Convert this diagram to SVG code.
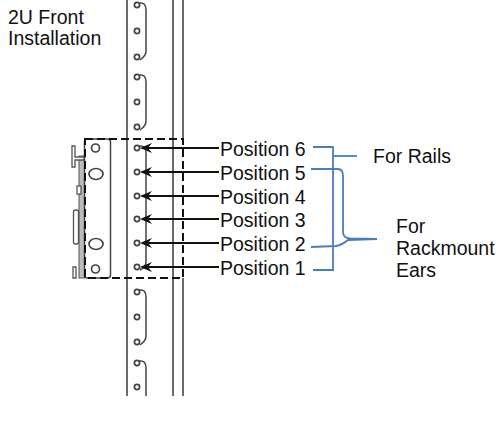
<svg xmlns="http://www.w3.org/2000/svg" width="499" height="421" viewBox="0 0 499 421">
<defs>
<style>
text{font-family:"Liberation Sans",Arial,sans-serif;font-size:19.5px;fill:#111}
.rail{stroke:#444;stroke-width:1.6;fill:none}
.hole{stroke:#444;stroke-width:1.7;fill:#fff}
.slot{stroke:#444;stroke-width:1.5;fill:none}
.arr{stroke:#111;stroke-width:2;fill:none;marker-end:url(#ah)}
.blue{stroke:#4a7ebb;stroke-width:1.8;fill:none}
.dash{stroke:#111;stroke-width:2;stroke-dasharray:8 4;fill:none}
.part{stroke:#555;stroke-width:1.3;fill:#fff}
</style>
<marker id="ah" viewBox="0 0 12 10" refX="8" refY="5" markerWidth="12" markerHeight="10" markerUnits="userSpaceOnUse" orient="auto">
<path d="M12,5 L0,0 L4,5 L0,10 z" fill="#111"/>
</marker>
</defs>
<rect width="499" height="421" fill="#fff"/>

<g id="title">
<text x="8" y="24" font-size="19">2U Front</text>
<text x="8" y="45" font-size="19">Installation</text>
</g>

<g id="rail">
<line class="rail" x1="127" y1="0" x2="127" y2="396"/>
<line class="rail" x1="173" y1="0" x2="173" y2="396"/>
<line class="rail" x1="183" y1="0" x2="183" y2="139"/>
<line class="rail" x1="183" y1="278" x2="183" y2="396"/>
<path class="slot" d="M139.5,3 Q146,2 146,10 V51 Q146,56 140,60"/>
<path class="slot" d="M139.5,75 Q146,74 146,82 V121 Q146,126 140,130"/>
<path class="slot" d="M139.5,146 Q146,145 146,153 V262 Q146,267 140,270"/>
<path class="slot" d="M139.5,290 Q146,289 146,297 V336 Q146,341 140,345"/>
<path class="slot" d="M139.5,361 Q146,360 146,368 V396"/>
<g>
<circle class="hole" cx="137" cy="5" r="2.6"/>
<circle class="hole" cx="137" cy="31" r="2.6"/>
<circle class="hole" cx="137" cy="57" r="2.6"/>
<circle class="hole" cx="137" cy="77" r="2.6"/>
<circle class="hole" cx="137" cy="102" r="2.6"/>
<circle class="hole" cx="137" cy="127" r="2.6"/>
<circle class="hole" cx="137" cy="148" r="2.6"/>
<circle class="hole" cx="137" cy="172" r="2.6"/>
<circle class="hole" cx="137" cy="196" r="2.6"/>
<circle class="hole" cx="137" cy="219" r="2.6"/>
<circle class="hole" cx="137" cy="243" r="2.6"/>
<circle class="hole" cx="137" cy="267" r="2.6"/>
<circle class="hole" cx="137" cy="292" r="2.6"/>
<circle class="hole" cx="137" cy="317" r="2.6"/>
<circle class="hole" cx="137" cy="342" r="2.6"/>
<circle class="hole" cx="137" cy="363" r="2.6"/>
<circle class="hole" cx="137" cy="387" r="2.6"/>
</g>
</g>

<g id="bracket">
<rect x="79" y="156" width="5.5" height="122" fill="#bbb" stroke="#555" stroke-width="1"/>
<path class="part" d="M72,146 H75 V157 H84 V160 H75 V167 H72 Z"/>
<rect class="part" x="77" y="186" width="4" height="8"/>
<rect class="part" x="73.5" y="210" width="5" height="34" rx="2"/>
<path class="part" d="M73,267 H76 V278 H73 Z"/>
<rect x="84.5" y="139" width="26" height="139" rx="3" fill="#fff" stroke="#444" stroke-width="1.5"/>
<circle class="hole" cx="95.5" cy="148" r="4"/>
<ellipse class="hole" cx="96" cy="174" rx="7" ry="5.5"/>
<ellipse class="hole" cx="96" cy="244" rx="7" ry="5.5"/>
<circle class="hole" cx="95.5" cy="269" r="4"/>
<rect class="dash" x="85" y="139" width="98" height="139"/>
</g>

<g id="connectors">
<line class="arr" x1="219" y1="148" x2="144" y2="148"/>
<line class="arr" x1="219" y1="172" x2="144" y2="172"/>
<line class="arr" x1="219" y1="196" x2="144" y2="196"/>
<line class="arr" x1="219" y1="219" x2="144" y2="219"/>
<line class="arr" x1="219" y1="243" x2="144" y2="243"/>
<line class="arr" x1="219" y1="267" x2="144" y2="267"/>
<path class="blue" d="M313,147 H333 V270 H313"/>
<path class="blue" d="M333,156 H357"/>
<path class="blue" d="M311,169 H338 Q343,169 343,176 V232 Q343,238 350,238.5 L377,239"/>
<path class="blue" d="M311,247 L336,246 Q342,245 348,240 L377,239"/>
</g>

<g id="positions">
<text x="220" y="156">Position 6</text>
<text x="220" y="180">Position 5</text>
<text x="220" y="204">Position 4</text>
<text x="220" y="227">Position 3</text>
<text x="220" y="251">Position 2</text>
<text x="220" y="275">Position 1</text>
</g>

<g id="rails-label">
<text x="373" y="163">For Rails</text>
</g>
<g id="ears-label">
<text x="396" y="233">For</text>
<text x="396" y="255">Rackmount</text>
<text x="396" y="277">Ears</text>
</g>
</svg>
